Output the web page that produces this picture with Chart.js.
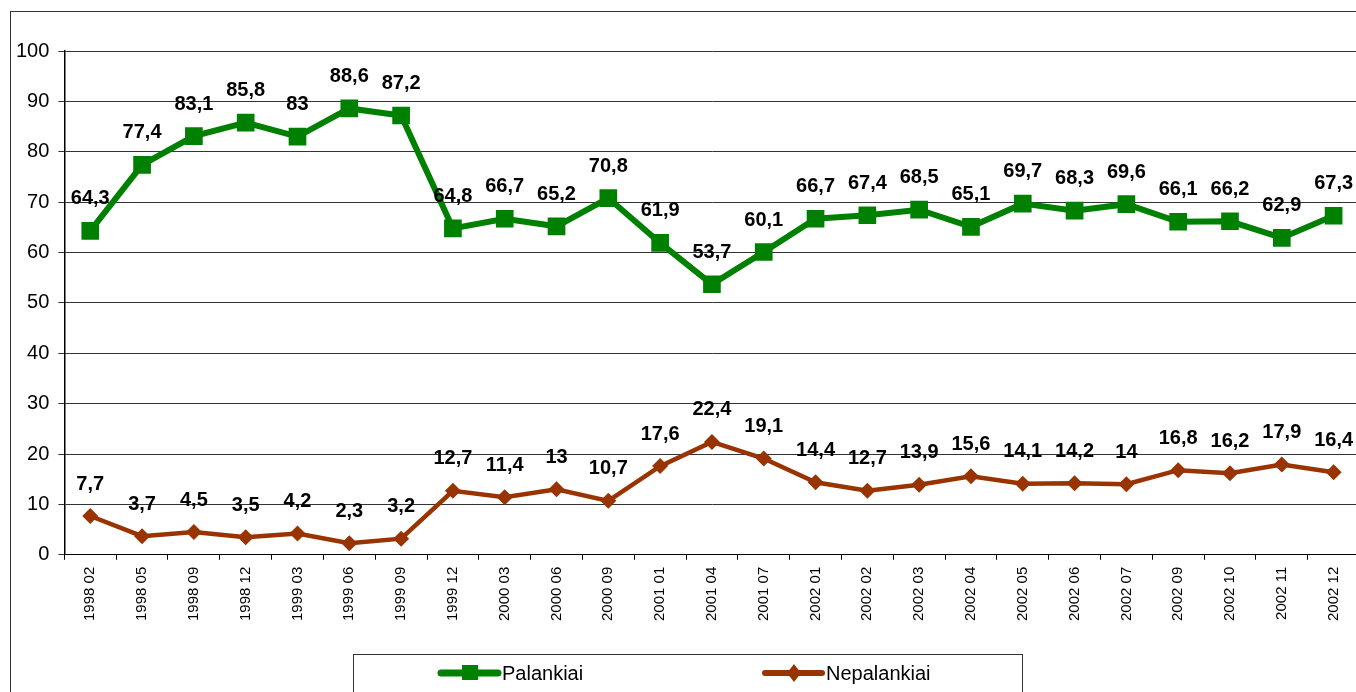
<!DOCTYPE html>
<html>
<head>
<meta charset="utf-8">
<script src="https://cdn.jsdelivr.net/npm/chart.js@4.4.0/dist/chart.umd.min.js"></script>
<style>
  html, body { margin: 0; padding: 0; background: #fff; overflow: hidden; }
  #wrap { width: 1372px; height: 692px; }
</style>
</head>
<body>
<div id="wrap"><canvas id="chart"></canvas></div>
<script>
// laikotarpiai (metai mėnuo)
var periods = ["1998 02", "1998 05", "1998 09", "1998 12", "1999 03", "1999 06", "1999 09",
  "1999 12", "2000 03", "2000 06", "2000 09", "2001 01", "2001 04", "2001 07",
  "2002 01", "2002 02", "2002 03", "2002 04", "2002 05", "2002 06", "2002 07",
  "2002 09", "2002 10", "2002 11", "2002 12"];

var palankiai = [64.3, 77.4, 83.1, 85.8, 83, 88.6, 87.2, 64.8, 66.7, 65.2, 70.8, 61.9, 53.7,
  60.1, 66.7, 67.4, 68.5, 65.1, 69.7, 68.3, 69.6, 66.1, 66.2, 62.9, 67.3];

var nepalankiai = [7.7, 3.7, 4.5, 3.5, 4.2, 2.3, 3.2, 12.7, 11.4, 13, 10.7, 17.6, 22.4,
  19.1, 14.4, 12.7, 13.9, 15.6, 14.1, 14.2, 14, 16.8, 16.2, 17.9, 16.4];

var seriesNames = ["Palankiai", "Nepalankiai"];
var yTicks = [0, 10, 20, 30, 40, 50, 60, 70, 80, 90, 100];

var GREEN = "#008000";
var RED = "#993300";
var FONT = "Arial, 'Liberation Sans', sans-serif";

// rėmelis aplink visą diagramą
var framePlugin = {
  id: "frame",
  beforeDraw: function (chart) {
    var ctx = chart.ctx;
    ctx.save();
    ctx.strokeStyle = "#333";
    ctx.lineWidth = 1;
    ctx.strokeRect(10.5, 11.5, 2000, 2000);
    ctx.restore();
  }
};

// reikšmių etiketės virš taškų
var valueLabels = {
  id: "valueLabels",
  afterDatasetsDraw: function (chart) {
    var ctx = chart.ctx;
    ctx.save();
    ctx.font = "bold 20px " + FONT;
    ctx.fillStyle = "#000";
    ctx.textAlign = "center";
    ctx.textBaseline = "middle";
    chart.data.datasets.forEach(function (ds, i) {
      var meta = chart.getDatasetMeta(i);
      meta.data.forEach(function (pt, j) {
        ctx.fillText(String(ds.data[j]).replace(".", ","), pt.x, pt.y - 32);
      });
    });
    ctx.restore();
  }
};

// legenda su rėmeliu apačioje
var boxLegend = {
  id: "boxLegend",
  afterDraw: function (chart) {
    var ctx = chart.ctx;
    ctx.save();
    ctx.strokeStyle = "#333";
    ctx.lineWidth = 1;
    ctx.strokeRect(353.5, 654.5, 669, 60);

    var items = [
      { x: 441, ds: chart.data.datasets[0], w: 7 },
      { x: 765, ds: chart.data.datasets[1], w: 6 }
    ];
    var y = 673;
    items.forEach(function (it) {
      ctx.strokeStyle = it.ds.borderColor;
      ctx.lineWidth = it.w;
      ctx.lineCap = "round";
      ctx.beginPath();
      ctx.moveTo(it.x, y);
      ctx.lineTo(it.x + 57, y);
      ctx.stroke();
      ctx.fillStyle = it.ds.borderColor;
      var cx = it.x + 29;
      ctx.beginPath();
      if (it.ds.pointStyle === "rect") {
        ctx.rect(cx - 8, y - 8, 16, 15);
      } else {
        ctx.moveTo(cx, y - 9);
        ctx.lineTo(cx + 7, y);
        ctx.lineTo(cx, y + 9);
        ctx.lineTo(cx - 7, y);
        ctx.closePath();
      }
      ctx.fill();
      ctx.fillStyle = "#000";
      ctx.font = "20px " + FONT;
      ctx.textAlign = "left";
      ctx.textBaseline = "middle";
      ctx.fillText(it.ds.label, it.x + 61, y + 1);
    });
    ctx.restore();
  }
};

var ctx = document.getElementById("chart");
var chart = new Chart(ctx, {
  type: "line",
  data: {
    labels: periods,
    datasets: [{
      label: seriesNames[0],
      data: palankiai,
      borderColor: GREEN,
      backgroundColor: GREEN,
      borderWidth: 6,
      pointStyle: "rect",
      pointRadius: 12.5,
      pointBorderWidth: 0,
      tension: 0
    }, {
      label: seriesNames[1],
      data: nepalankiai,
      borderColor: RED,
      backgroundColor: RED,
      borderWidth: 4.5,
      pointStyle: "rectRot",
      pointRadius: 8,
      pointBorderWidth: 0,
      tension: 0
    }]
  },
  options: {
    responsive: true,
    maintainAspectRatio: false,
    animation: false,
    layout: {
      padding: { left: 7, top: 51, right: 0, bottom: 64 }
    },
    plugins: {
      legend: { display: false },
      tooltip: { enabled: false }
    },
    scales: {
      x: {
        offset: true,
        grid: {
          offset: true,
          drawOnChartArea: false,
          drawTicks: true,
          tickLength: 5,
          color: "#000"
        },
        border: { color: "#000", width: 1 },
        ticks: {
          autoSkip: false,
          maxRotation: 90,
          minRotation: 90,
          padding: 7,
          color: "#000",
          font: { size: 15, family: FONT }
        }
      },
      y: {
        min: yTicks[0],
        max: yTicks[yTicks.length - 1],
        afterBuildTicks: function (scale) {
          scale.ticks = yTicks.map(function (v) { return { value: v }; });
        },
        grid: {
          color: "#333",
          lineWidth: 1,
          drawTicks: true,
          tickLength: 6
        },
        border: { color: "#000", width: 1.5 },
        ticks: {
          padding: 9,
          color: "#000",
          font: { size: 20, family: FONT }
        }
      }
    }
  },
  plugins: [framePlugin, valueLabels, boxLegend]
});
</script>
</body>
</html>
